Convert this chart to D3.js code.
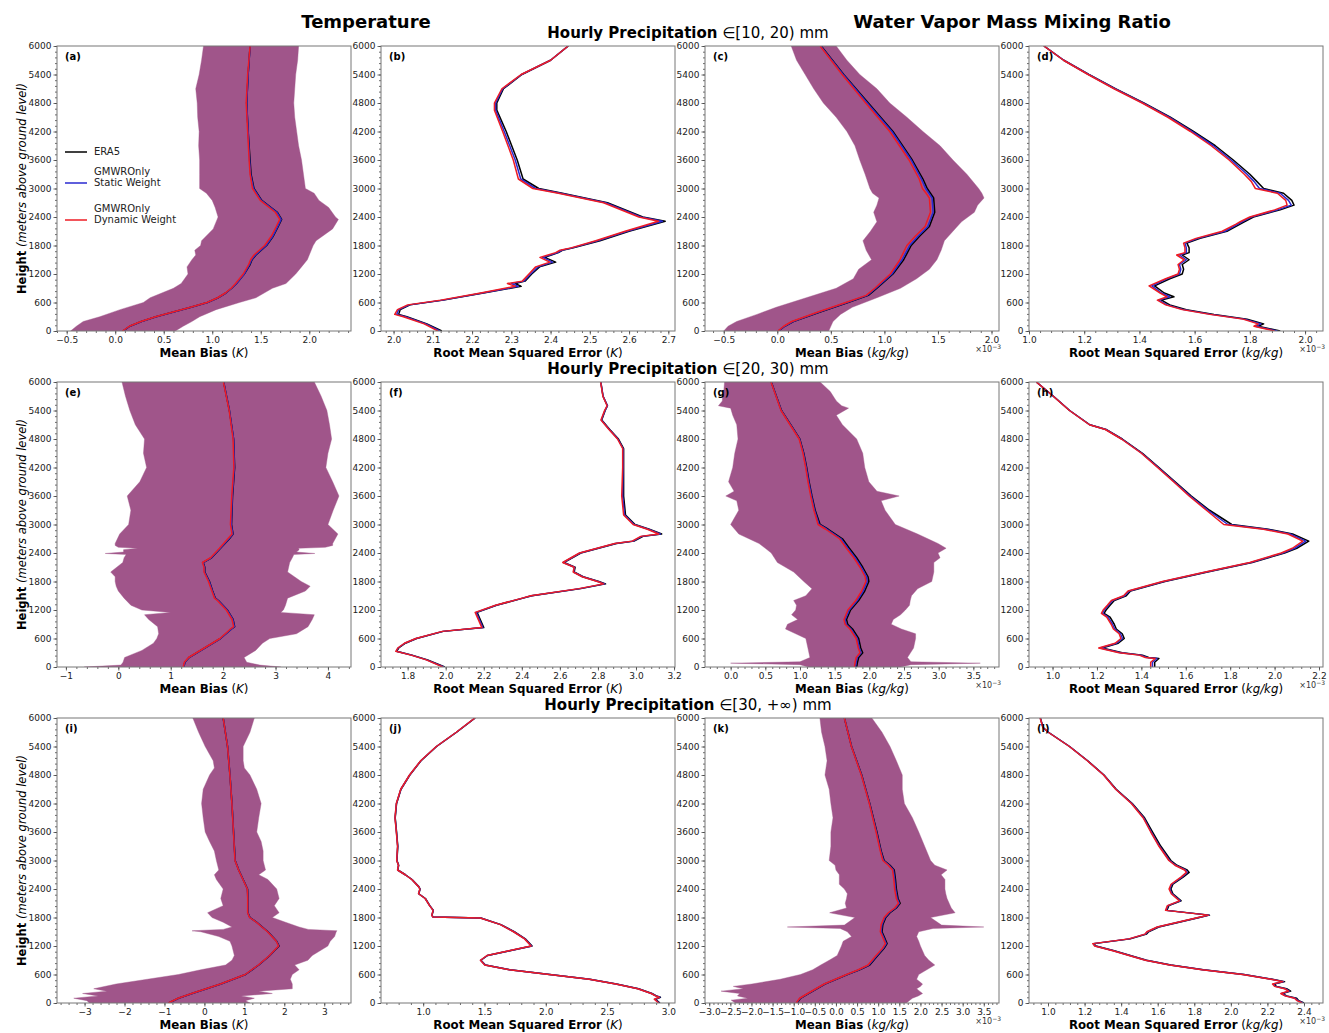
<!DOCTYPE html>
<html>
<head>
<meta charset="utf-8">
<script src="https://cdn.jsdelivr.net/npm/d3@7"></script>
<style>
  body { margin: 0; background: #fff; }
  text { font-family: "DejaVu Sans", sans-serif; }
</style>
</head>
<body>
<script>
// ---- data (heights in m) ----
var yTicks = [0, 600, 1200, 1800, 2400, 3000, 3600, 4200, 4800, 5400, 6000];
var seriesNames = ["ERA5", "GMWROnly\nStatic Weight", "GMWROnly\nDynamic Weight"];
var precipBins = ["[10, 20)", "[20, 30)", "[30, +\u221e)"];

// (a) temperature mean bias, 10-20 mm
var aH = [0,100,200,300,400,500,600,700,800,900,1000,1200,1400,1500,1600,1800,2000,2200,2350,2500,2750,3000,3300,3600,4200,4800,5400,6000];
var aEra = [0.08,0.15,0.27,0.42,0.60,0.78,0.95,1.06,1.14,1.20,1.25,1.33,1.39,1.41,1.45,1.56,1.63,1.68,1.715,1.67,1.51,1.43,1.40,1.39,1.37,1.355,1.37,1.39];
var aStatic = [0.08,0.15,0.27,0.42,0.60,0.78,0.95,1.06,1.14,1.20,1.25,1.33,1.385,1.405,1.445,1.555,1.625,1.675,1.71,1.665,1.505,1.425,1.395,1.385,1.37,1.355,1.37,1.39];
var aDynamic = [0.075,0.145,0.265,0.415,0.595,0.775,0.945,1.055,1.135,1.195,1.24,1.32,1.375,1.395,1.43,1.54,1.61,1.66,1.695,1.65,1.495,1.415,1.39,1.38,1.365,1.35,1.365,1.39];
var aBandH = [0,100,200,300,450,600,700,900,1000,1200,1350,1500,1600,1700,1800,1900,2150,2350,2400,2600,2750,2900,3000,3300,3600,3900,4200,4500,4800,5100,5400,5700,6000];
var aLow = [-0.46,-0.40,-0.33,-0.16,0.05,0.29,0.36,0.60,0.68,0.75,0.74,0.79,0.83,0.82,0.88,0.89,1.01,1.05,1.06,1.03,1.0,0.94,0.87,0.87,0.87,0.86,0.865,0.85,0.845,0.83,0.865,0.89,0.91];
var aHigh = [0.62,0.70,0.79,0.87,1.04,1.28,1.45,1.62,1.76,1.86,1.92,1.98,2.0,2.02,2.04,2.07,2.24,2.3,2.27,2.2,2.1,2.05,1.96,1.94,1.92,1.89,1.87,1.85,1.84,1.85,1.86,1.88,1.89];

// (b) temperature RMSE, 10-20 mm
var bH = [0,150,300,350,450,550,650,800,940,1000,1050,1200,1350,1450,1550,1650,1700,1750,1900,2100,2310,2400,2700,2900,3000,3200,3600,4200,4650,4800,5100,5400,5700,6000];
var bEra = [2.123,2.085,2.034,2.013,2.017,2.042,2.127,2.229,2.325,2.31,2.335,2.352,2.372,2.413,2.385,2.42,2.43,2.458,2.526,2.60,2.692,2.635,2.545,2.43,2.37,2.33,2.315,2.287,2.263,2.263,2.28,2.327,2.40,2.445];
var bStatic = [2.118,2.082,2.03,2.008,2.013,2.04,2.125,2.226,2.318,2.3,2.332,2.349,2.368,2.405,2.38,2.418,2.428,2.455,2.52,2.595,2.685,2.63,2.54,2.425,2.362,2.324,2.31,2.282,2.26,2.26,2.278,2.326,2.40,2.445];
var bDynamic = [2.113,2.078,2.025,2.003,2.01,2.036,2.12,2.222,2.31,2.29,2.328,2.345,2.362,2.398,2.373,2.413,2.424,2.452,2.515,2.59,2.675,2.625,2.535,2.42,2.355,2.318,2.305,2.278,2.257,2.257,2.276,2.325,2.40,2.445];

// (c) water vapour mean bias (x1e-3), 10-20 mm
var cH = [0,100,200,400,600,750,900,1200,1500,1800,2000,2200,2500,2800,2900,3000,3200,3600,4200,4800,5400,6000];
var cEra = [0.01,0.07,0.15,0.40,0.66,0.85,0.93,1.08,1.18,1.25,1.33,1.42,1.47,1.46,1.43,1.40,1.36,1.26,1.08,0.85,0.62,0.41];
var cStatic = [0.01,0.068,0.145,0.39,0.65,0.84,0.92,1.07,1.165,1.235,1.315,1.405,1.455,1.445,1.415,1.385,1.345,1.25,1.07,0.84,0.615,0.405];
var cDynamic = [0.005,0.06,0.135,0.38,0.64,0.83,0.91,1.055,1.145,1.21,1.29,1.38,1.43,1.42,1.39,1.355,1.325,1.23,1.05,0.825,0.605,0.40];
var cBandH = [0,100,200,350,500,700,900,1100,1300,1500,1700,1900,2100,2300,2500,2650,2800,2900,3000,3300,3600,3900,4200,4500,4800,5100,5400,5700,6000];
var cLow = [-0.50,-0.46,-0.38,-0.19,-0.01,0.27,0.55,0.71,0.76,0.88,0.83,0.80,0.87,0.93,0.90,0.93,0.95,0.89,0.865,0.82,0.77,0.725,0.65,0.55,0.43,0.34,0.26,0.18,0.13];
var cHigh = [0.48,0.50,0.52,0.59,0.70,0.93,1.15,1.30,1.42,1.49,1.53,1.56,1.64,1.72,1.84,1.87,1.93,1.91,1.88,1.77,1.64,1.52,1.36,1.21,1.05,0.93,0.77,0.65,0.55];

// (d) water vapour RMSE (x1e-3), 10-20 mm
var dH = [0,100,150,250,350,450,550,650,720,800,950,1100,1200,1300,1400,1500,1600,1650,1750,1850,1950,2100,2250,2300,2400,2550,2650,2750,2900,3000,3150,3300,3600,3900,4200,4500,4800,5100,5400,5700,6000];
var dEra = [1.91,1.83,1.85,1.79,1.67,1.57,1.51,1.48,1.525,1.49,1.455,1.51,1.555,1.56,1.555,1.58,1.555,1.58,1.58,1.572,1.62,1.717,1.765,1.78,1.813,1.91,1.96,1.952,1.922,1.85,1.825,1.80,1.74,1.675,1.596,1.512,1.416,1.313,1.217,1.126,1.054];
var dStatic = [1.90,1.82,1.84,1.78,1.66,1.56,1.50,1.47,1.51,1.48,1.445,1.50,1.545,1.55,1.545,1.57,1.545,1.57,1.57,1.565,1.612,1.71,1.757,1.772,1.805,1.9,1.95,1.94,1.91,1.835,1.815,1.79,1.732,1.668,1.59,1.508,1.413,1.311,1.216,1.126,1.054];
var dDynamic = [1.89,1.815,1.83,1.775,1.655,1.555,1.495,1.465,1.50,1.475,1.435,1.495,1.54,1.545,1.54,1.562,1.535,1.565,1.565,1.56,1.605,1.70,1.75,1.765,1.80,1.89,1.935,1.93,1.90,1.82,1.805,1.78,1.725,1.66,1.585,1.503,1.41,1.308,1.214,1.125,1.054];

// (e) temperature mean bias, 20-30 mm
var eH = [0,100,200,400,600,800,850,1000,1200,1400,1450,1600,1800,2000,2100,2200,2300,2500,2700,2800,3000,3600,4200,4800,5400,6000];
var eEra = [1.25,1.27,1.35,1.65,1.95,2.16,2.22,2.19,2.08,1.91,1.85,1.80,1.74,1.65,1.65,1.62,1.78,1.95,2.12,2.19,2.16,2.18,2.22,2.20,2.12,2.01];
var eStatic = [1.25,1.27,1.35,1.65,1.95,2.16,2.215,2.185,2.075,1.905,1.845,1.795,1.735,1.645,1.645,1.615,1.775,1.945,2.11,2.185,2.155,2.175,2.215,2.20,2.12,2.01];
var eDynamic = [1.24,1.26,1.34,1.64,1.94,2.14,2.2,2.17,2.06,1.89,1.835,1.785,1.72,1.635,1.635,1.605,1.76,1.93,2.09,2.17,2.14,2.165,2.205,2.19,2.115,2.005];
var eBandH = [0,40,100,200,350,500,600,700,850,1000,1100,1150,1200,1300,1450,1600,1700,1800,1900,2000,2200,2300,2370,2390,2420,2470,2500,2520,2560,2600,2800,3000,3300,3600,3900,4200,4500,4800,5100,5400,5700,6000];
var eLow = [-0.65,0.05,0.09,0.12,0.45,0.67,0.735,0.77,0.75,0.58,0.50,1.0,0.45,0.24,0.11,0.0,-0.04,-0.06,-0.06,-0.145,0.085,0.11,0.15,-0.25,0.1,0.1,0.37,0.0,-0.06,-0.06,0.026,0.197,0.24,0.17,0.41,0.54,0.48,0.5,0.325,0.22,0.137,0.07];
var eHigh = [3.1,2.7,2.45,2.4,2.62,2.75,2.89,3.4,3.62,3.70,3.74,3.1,3.15,3.19,3.23,3.57,3.66,3.49,3.36,3.23,3.27,3.32,3.35,3.75,3.4,3.45,3.44,3.95,4.09,4.09,4.19,4.0,4.1,4.21,4.09,3.96,4.0,4.07,4.03,3.98,3.87,3.74];

// (f) temperature RMSE, 20-30 mm
var fH = [0,150,250,330,400,500,600,750,830,1150,1300,1450,1500,1650,1750,1800,1900,2000,2100,2200,2400,2600,2650,2750,2800,2900,3000,3200,3600,4200,4600,4800,5000,5200,5400,5500,5700,6000];
var fEra = [1.995,1.905,1.823,1.742,1.753,1.788,1.847,1.987,2.20,2.165,2.267,2.407,2.453,2.71,2.84,2.805,2.722,2.675,2.68,2.621,2.71,2.897,2.99,3.037,3.135,3.07,2.995,2.945,2.935,2.935,2.935,2.908,2.862,2.82,2.838,2.85,2.827,2.815];
var fStatic = [1.99,1.9,1.82,1.74,1.75,1.785,1.845,1.985,2.195,2.16,2.265,2.405,2.45,2.705,2.835,2.8,2.72,2.672,2.677,2.618,2.706,2.892,2.985,3.03,3.128,3.065,2.99,2.94,2.93,2.932,2.932,2.905,2.86,2.818,2.837,2.85,2.827,2.815];
var fDynamic = [1.985,1.898,1.818,1.738,1.748,1.783,1.843,1.982,2.19,2.155,2.262,2.402,2.447,2.7,2.83,2.797,2.717,2.67,2.675,2.615,2.703,2.888,2.98,3.025,3.12,3.06,2.985,2.935,2.925,2.93,2.93,2.903,2.858,2.816,2.835,2.848,2.826,2.814];

// (g) water vapour mean bias (x1e-3), 20-30 mm
var gH = [0,100,200,300,400,600,800,900,1000,1200,1400,1600,1800,1900,2100,2300,2500,2700,2900,3000,3300,3600,3900,4200,4500,4800,5000,5400,6000];
var gEra = [1.817,1.829,1.846,1.905,1.876,1.846,1.758,1.688,1.671,1.729,1.846,1.934,1.993,1.981,1.905,1.817,1.712,1.612,1.407,1.29,1.219,1.172,1.131,1.096,1.055,0.997,0.91,0.733,0.586];
var gStatic = [1.80,1.81,1.825,1.88,1.855,1.825,1.735,1.665,1.65,1.71,1.825,1.912,1.97,1.96,1.885,1.795,1.69,1.59,1.39,1.275,1.21,1.165,1.125,1.09,1.05,0.993,0.906,0.73,0.585];
var gDynamic = [1.785,1.795,1.81,1.865,1.84,1.81,1.72,1.65,1.635,1.69,1.805,1.89,1.95,1.94,1.865,1.775,1.67,1.57,1.37,1.26,1.2,1.155,1.115,1.082,1.043,0.988,0.9,0.726,0.582];
var gBandH = [0,50,80,110,200,400,600,700,800,900,1000,1100,1200,1300,1400,1500,1650,1800,2000,2200,2300,2400,2500,2600,2800,3000,3300,3500,3600,3700,3900,4200,4500,4800,5100,5300,5450,5500,5600,5700,5800,6000];
var gLow = [1.12,1.0,0.0,1.0,1.143,1.114,1.084,0.938,0.791,0.82,0.967,0.879,0.938,0.95,0.909,1.084,1.172,1.055,0.909,0.674,0.63,0.586,0.5,0.41,0.117,0.0,0.117,0.088,-0.07,0.05,-0.03,0.03,0.059,0.106,0.088,0.03,0.0,-0.176,-0.12,-0.117,-0.1,-0.088];
var gHigh = [2.45,2.6,3.6,2.6,2.55,2.638,2.667,2.667,2.462,2.315,2.345,2.45,2.52,2.579,2.59,2.608,2.696,2.9,2.93,2.93,3.02,2.99,3.107,2.99,2.696,2.374,2.227,2.17,2.43,2.11,1.993,1.934,1.905,1.817,1.612,1.524,1.7,1.6,1.524,1.48,1.436,1.29];

// (h) water vapour RMSE (x1e-3), 20-30 mm
var hH = [0,100,180,200,250,300,400,500,600,700,800,900,1050,1130,1200,1300,1400,1500,1600,1800,2000,2200,2400,2500,2650,2800,2900,3000,3300,3600,3900,4200,4500,4800,5000,5100,5400,5700,6000];
var hEra = [1.46,1.46,1.479,1.433,1.405,1.314,1.223,1.296,1.323,1.314,1.287,1.278,1.259,1.232,1.241,1.259,1.278,1.332,1.351,1.506,1.698,1.899,2.045,2.10,2.154,2.081,1.972,1.807,1.707,1.625,1.552,1.479,1.405,1.314,1.241,1.168,1.077,1.004,0.927];
var hStatic = [1.45,1.45,1.47,1.425,1.397,1.306,1.215,1.288,1.315,1.306,1.28,1.27,1.25,1.225,1.233,1.252,1.27,1.325,1.345,1.5,1.692,1.893,2.037,2.09,2.14,2.07,1.96,1.79,1.7,1.62,1.548,1.476,1.402,1.312,1.24,1.167,1.077,1.004,0.927];
var hDynamic = [1.442,1.442,1.462,1.418,1.39,1.3,1.208,1.282,1.308,1.3,1.274,1.264,1.244,1.22,1.228,1.247,1.265,1.32,1.34,1.495,1.688,1.888,2.03,2.08,2.127,2.06,1.95,1.771,1.693,1.615,1.545,1.473,1.4,1.31,1.238,1.166,1.076,1.003,0.927];

// (i) temperature mean bias, >=30 mm
var iH = [0,100,200,400,600,800,1000,1100,1200,1300,1500,1700,1800,1900,2200,2400,2600,2800,3000,3600,4200,4800,5400,6000];
var iEra = [-0.89,-0.65,-0.31,0.41,1.03,1.36,1.64,1.75,1.87,1.81,1.59,1.31,1.14,1.09,1.09,1.08,0.97,0.86,0.77,0.73,0.69,0.64,0.58,0.47];
var iStatic = [-0.89,-0.65,-0.31,0.41,1.025,1.355,1.635,1.745,1.862,1.805,1.585,1.305,1.135,1.087,1.087,1.077,0.968,0.858,0.768,0.729,0.689,0.64,0.58,0.47];
var iDynamic = [-0.9,-0.66,-0.32,0.4,1.02,1.35,1.63,1.74,1.855,1.8,1.58,1.3,1.13,1.083,1.084,1.074,0.965,0.855,0.765,0.727,0.688,0.638,0.579,0.47];
var iBandH = [0,50,100,150,200,250,300,400,500,600,700,800,900,1000,1200,1300,1400,1500,1520,1550,1600,1700,1800,1900,2050,2200,2400,2600,2700,2800,3000,3200,3400,3600,3900,4200,4500,4800,4950,5100,5400,5700,6000];
var iLow = [-2.88,-2.94,-3.27,-2.66,-3.05,-2.44,-2.77,-2.21,-1.43,-0.65,-0.09,0.53,0.69,0.75,0.69,0.64,0.36,-0.09,-0.31,0.47,0.69,0.47,0.19,0.08,0.47,0.41,0.47,0.30,0.25,0.36,0.30,0.25,0.13,0.02,-0.03,-0.07,-0.03,0.13,0.25,0.22,0.02,-0.145,-0.29];
var iHigh = [1.14,1.03,1.25,0.92,1.7,1.36,2.2,2.2,2.15,2.2,2.37,2.26,2.59,2.7,3.09,3.15,3.26,3.3,3.32,2.6,2.37,2.03,1.7,1.87,1.75,1.87,1.81,1.59,1.36,1.53,1.47,1.47,1.42,1.31,1.36,1.42,1.31,1.14,1.0,0.97,0.97,1.14,1.25];

// (j) temperature RMSE, >=30 mm
var jH = [0,80,120,150,200,300,400,500,600,700,800,900,1000,1100,1200,1350,1500,1650,1790,1810,1850,1950,2050,2200,2300,2400,2450,2600,2700,2800,2900,3000,3300,3600,3900,4200,4500,4800,5100,5400,5700,6000];
var jEra = [2.931,2.895,2.935,2.902,2.866,2.757,2.576,2.359,2.033,1.707,1.507,1.471,1.525,1.707,1.888,1.833,1.743,1.634,1.47,1.08,1.072,1.083,1.054,1.018,0.964,0.975,0.964,0.909,0.855,0.793,0.8,0.786,0.793,0.783,0.772,0.783,0.819,0.891,0.982,1.109,1.272,1.424];
var jStatic = [2.925,2.89,2.93,2.898,2.862,2.753,2.572,2.356,2.03,1.705,1.505,1.469,1.523,1.704,1.884,1.83,1.74,1.632,1.468,1.079,1.071,1.082,1.053,1.017,0.963,0.974,0.963,0.908,0.854,0.792,0.799,0.785,0.792,0.782,0.771,0.782,0.818,0.89,0.981,1.108,1.271,1.423];
var jDynamic = [2.92,2.885,2.925,2.895,2.86,2.75,2.57,2.353,2.027,1.702,1.502,1.467,1.52,1.7,1.88,1.827,1.737,1.63,1.466,1.078,1.07,1.081,1.052,1.016,0.962,0.973,0.962,0.907,0.853,0.791,0.798,0.784,0.791,0.781,0.77,0.781,0.817,0.889,0.98,1.107,1.27,1.422];

// (k) water vapour mean bias (x1e-3), >=30 mm
var kH = [0,100,200,400,600,700,800,1000,1150,1250,1400,1500,1650,1800,1900,2000,2100,2200,2400,2600,2800,2900,3000,3200,3600,4200,4800,5400,6000];
var kEra = [-0.92,-0.84,-0.65,-0.26,0.27,0.56,0.8,0.99,1.14,1.21,1.14,1.09,1.11,1.18,1.28,1.43,1.52,1.47,1.43,1.41,1.38,1.28,1.14,1.07,0.97,0.8,0.61,0.37,0.2];
var kStatic = [-0.93,-0.85,-0.66,-0.27,0.26,0.545,0.78,0.97,1.12,1.19,1.12,1.07,1.09,1.16,1.26,1.41,1.5,1.45,1.41,1.39,1.36,1.26,1.125,1.06,0.96,0.795,0.605,0.368,0.2];
var kDynamic = [-0.94,-0.86,-0.67,-0.28,0.25,0.53,0.76,0.95,1.1,1.17,1.1,1.05,1.07,1.14,1.24,1.39,1.48,1.43,1.39,1.37,1.34,1.24,1.11,1.05,0.95,0.79,0.6,0.365,0.2];
var kBandH = [0,60,100,150,200,250,300,350,400,500,600,700,800,900,1000,1100,1200,1300,1400,1500,1570,1600,1640,1800,1900,2000,2100,2200,2300,2400,2500,2600,2700,2800,2900,3000,3300,3600,3900,4200,4500,4800,5100,5400,5700,6000];
var kLow = [-2.38,-2.48,-2.09,-2.33,-2.28,-2.72,-2.19,-2.43,-1.99,-1.32,-0.84,-0.55,-0.36,-0.16,0.03,0.08,0.13,0.17,0.37,0.27,0.1,-1.15,0.2,0.45,-0.15,0.25,0.22,0.25,0.27,0.2,0.08,0.08,0.08,0.0,-0.02,-0.16,-0.12,-0.12,-0.07,-0.12,-0.16,-0.26,-0.21,-0.26,-0.34,-0.38];
var kHigh = [1.67,1.75,1.81,1.95,2.05,1.98,1.91,2.0,2.05,1.91,1.96,2.15,2.34,2.2,2.1,2.05,2.0,1.96,1.91,1.96,2.3,3.5,2.5,2.24,2.82,2.73,2.68,2.63,2.6,2.58,2.58,2.58,2.49,2.63,2.34,2.24,2.1,1.96,1.81,1.62,1.57,1.57,1.43,1.28,1.09,0.85];

// (l) water vapour RMSE (x1e-3), >=30 mm
var lH = [0,50,100,150,200,250,300,350,400,450,500,600,700,800,900,1000,1100,1200,1250,1350,1450,1500,1600,1700,1800,1850,1950,2050,2150,2300,2400,2500,2650,2750,2800,2900,3000,3300,3600,3900,4200,4500,4800,5100,5400,5700,5800,6000];
var lEra = [2.4,2.371,2.36,2.305,2.282,2.327,2.305,2.249,2.238,2.294,2.227,2.072,1.85,1.672,1.539,1.45,1.362,1.262,1.251,1.45,1.539,1.55,1.606,1.717,1.828,1.883,1.65,1.661,1.728,1.683,1.672,1.683,1.739,1.772,1.761,1.705,1.672,1.617,1.572,1.528,1.461,1.373,1.306,1.217,1.118,1.002,0.973,0.958];
var lStatic = [2.395,2.366,2.352,2.3,2.277,2.32,2.298,2.243,2.232,2.288,2.222,2.068,1.846,1.668,1.535,1.446,1.358,1.258,1.248,1.445,1.532,1.544,1.6,1.712,1.824,1.88,1.646,1.656,1.723,1.678,1.666,1.677,1.732,1.762,1.752,1.698,1.665,1.61,1.565,1.523,1.458,1.371,1.305,1.216,1.118,1.002,0.973,0.958];
var lDynamic = [2.39,2.362,2.348,2.296,2.273,2.316,2.294,2.239,2.228,2.284,2.218,2.064,1.842,1.665,1.532,1.443,1.355,1.255,1.245,1.442,1.53,1.541,1.597,1.709,1.821,1.877,1.643,1.653,1.719,1.674,1.662,1.673,1.727,1.757,1.747,1.694,1.661,1.607,1.562,1.52,1.456,1.37,1.304,1.215,1.117,1.001,0.972,0.957];

// ---- layout ----
var width = 1329, height = 1033;
var colLeft = [57, 381, 705, 1029], rowTop = [46, 382, 718];
var pw = 294, ph = 285;
var colors = ["#000000", "#2a2ad0", "#ee1c24"];
var bandColor = "#a0558a";

var panels = [
  {id: "a", r: 0, c: 0, dom: [-0.6, 2.43], step: 0.5, minor: 0.1, fmt: ".1f", lab: "Mean Bias", unit: "K", H: aH, lines: [aEra, aStatic, aDynamic], band: [aBandH, aLow, aHigh]},
  {id: "b", r: 0, c: 1, dom: [1.968, 2.717], step: 0.1, minor: 0.02, fmt: ".1f", lab: "Root Mean Squared Error", unit: "K", H: bH, lines: [bEra, bStatic, bDynamic]},
  {id: "c", r: 0, c: 2, dom: [-0.675, 2.07], step: 0.5, minor: 0.1, fmt: ".1f", lab: "Mean Bias", unit: "kg/kg", sci: true, H: cH, lines: [cEra, cStatic, cDynamic], band: [cBandH, cLow, cHigh]},
  {id: "d", r: 0, c: 3, dom: [1.0, 2.065], step: 0.2, minor: 0.04, fmt: ".1f", lab: "Root Mean Squared Error", unit: "kg/kg", sci: true, H: dH, lines: [dEra, dStatic, dDynamic]},
  {id: "e", r: 1, c: 0, dom: [-1.17, 4.44], step: 1, minor: 0.2, fmt: "d", lab: "Mean Bias", unit: "K", H: eH, lines: [eEra, eStatic, eDynamic], band: [eBandH, eLow, eHigh]},
  {id: "f", r: 1, c: 1, dom: [1.66, 3.205], step: 0.2, minor: 0.04, fmt: ".1f", lab: "Root Mean Squared Error", unit: "K", H: fH, lines: [fEra, fStatic, fDynamic]},
  {id: "g", r: 1, c: 2, dom: [-0.37, 3.87], step: 0.5, minor: 0.1, fmt: ".1f", lab: "Mean Bias", unit: "kg/kg", sci: true, H: gH, lines: [gEra, gStatic, gDynamic], band: [gBandH, gLow, gHigh]},
  {id: "h", r: 1, c: 3, dom: [0.894, 2.218], step: 0.2, minor: 0.04, fmt: ".1f", lab: "Root Mean Squared Error", unit: "kg/kg", sci: true, H: hH, lines: [hEra, hStatic, hDynamic]},
  {id: "i", r: 2, c: 0, dom: [-3.69, 3.67], step: 1, minor: 0.2, fmt: "d", lab: "Mean Bias", unit: "K", H: iH, lines: [iEra, iStatic, iDynamic], band: [iBandH, iLow, iHigh]},
  {id: "j", r: 2, c: 1, dom: [0.656, 3.054], step: 0.5, minor: 0.1, fmt: ".1f", lab: "Root Mean Squared Error", unit: "K", H: jH, lines: [jEra, jStatic, jDynamic]},
  {id: "k", r: 2, c: 2, dom: [-3.1, 3.86], step: 0.5, minor: 0.1, fmt: ".1f", lab: "Mean Bias", unit: "kg/kg", sci: true, H: kH, lines: [kEra, kStatic, kDynamic], band: [kBandH, kLow, kHigh]},
  {id: "l", r: 2, c: 3, dom: [0.896, 2.504], step: 0.2, minor: 0.04, fmt: ".1f", lab: "Root Mean Squared Error", unit: "kg/kg", sci: true, H: lH, lines: [lEra, lStatic, lDynamic]}
];

function stepTicks(dom, step) {
  var s = Math.ceil(dom[0] / step - 1e-6), e = Math.floor(dom[1] / step + 1e-6);
  return d3.range(s, e + 1).map(function(i) { return +(i * step).toFixed(6); });
}

var svg = d3.select("body").append("svg")
    .attr("width", width)
    .attr("height", height);

var defs = svg.append("defs");

panels.forEach(function(p) {
  var left = colLeft[p.c], top = rowTop[p.r], bottom = top + ph;
  var x = d3.scaleLinear().domain(p.dom).range([left, left + pw]);
  var y = d3.scaleLinear().domain([0, 6000]).range([bottom, top]);
  var g = svg.append("g").attr("class", "panel-" + p.id);

  defs.append("clipPath").attr("id", "clip-" + p.id)
    .append("rect").attr("x", left).attr("y", top).attr("width", pw).attr("height", ph);

  var plot = g.append("g").attr("clip-path", "url(#clip-" + p.id + ")");

  if (p.band) {
    var rows = p.band[0].map(function(h, i) { return {h: h, lo: p.band[1][i], hi: p.band[2][i]}; });
    plot.append("path")
      .datum(rows)
      .attr("d", d3.area()
        .y(function(d) { return y(d.h); })
        .x0(function(d) { return x(d.lo); })
        .x1(function(d) { return x(d.hi); }))
      .attr("fill", bandColor)
      .attr("stroke", bandColor)
      .attr("stroke-opacity", 0.5)
      .attr("stroke-width", 0.8);
  }

  var line = d3.line()
    .x(function(d) { return x(d[1]); })
    .y(function(d) { return y(d[0]); });

  p.lines.forEach(function(vals, k) {
    plot.append("path")
      .datum(d3.zip(p.H, vals))
      .attr("d", line)
      .attr("fill", "none")
      .attr("stroke", colors[k])
      .attr("stroke-width", 1.5)
      .attr("stroke-linejoin", "round");
  });

  // axes
  g.append("g").attr("transform", "translate(0," + bottom + ")")
    .call(d3.axisBottom(x).tickValues(stepTicks(p.dom, p.step)).tickFormat(d3.format(p.fmt)).tickSize(3.5).tickPadding(2));
  g.append("g").attr("transform", "translate(0," + bottom + ")")
    .call(d3.axisBottom(x).tickValues(stepTicks(p.dom, p.minor)).tickFormat("").tickSize(2));
  g.append("g").attr("transform", "translate(" + left + ",0)")
    .call(d3.axisLeft(y).tickValues(yTicks).tickFormat(d3.format("d")).tickSize(3.5).tickPadding(2));
  g.append("g").attr("transform", "translate(" + left + ",0)")
    .call(d3.axisLeft(y).tickValues(d3.range(0, 6001, 120)).tickFormat("").tickSize(2));

  g.selectAll(".domain").remove();
  g.selectAll(".tick line").attr("stroke", "#444").attr("stroke-width", 0.8);
  g.selectAll(".tick text").attr("font-size", "9px").attr("font-family", "DejaVu Sans").attr("fill", "#222");

  g.append("rect")
    .attr("x", left).attr("y", top).attr("width", pw).attr("height", ph)
    .attr("fill", "none").attr("stroke", "#777").attr("stroke-width", 1);

  g.append("text")
    .attr("x", left + 8).attr("y", top + 14)
    .attr("font-size", "10px").attr("font-weight", "bold")
    .text("(" + p.id + ")");

  var xl = g.append("text")
    .attr("x", left + pw / 2).attr("y", bottom + 26)
    .attr("text-anchor", "middle").attr("font-size", "11.8px");
  xl.append("tspan").attr("font-weight", "bold").text(p.lab);
  xl.append("tspan").text(" (");
  xl.append("tspan").attr("font-style", "italic").text(p.unit);
  xl.append("tspan").text(")");

  if (p.sci) {
    var st = g.append("text")
      .attr("x", left + pw + 2).attr("y", bottom + 21)
      .attr("text-anchor", "end").attr("font-size", "8px").attr("fill", "#333");
    st.append("tspan").text("\u00d710");
    st.append("tspan").attr("dy", -3.5).attr("font-size", "6px").text("\u22123");
  }

  if (p.c === 0) {
    var yl = g.append("text")
      .attr("transform", "translate(26," + (top + ph / 2) + ") rotate(-90)")
      .attr("text-anchor", "middle").attr("font-size", "11.5px");
    yl.append("tspan").attr("font-weight", "bold").text("Height");
    yl.append("tspan").attr("font-style", "italic").text(" (meters above ground level)");
  }

  if (p.id === "a") {
    var ly = [152, 183, 220];
    seriesNames.forEach(function(name, k) {
      g.append("line")
        .attr("x1", 65).attr("x2", 87).attr("y1", ly[k]).attr("y2", ly[k])
        .attr("stroke", colors[k]).attr("stroke-width", 1.5);
      var parts = name.split("\n");
      parts.forEach(function(t, j) {
        g.append("text")
          .attr("x", 94).attr("y", ly[k] + 2.5 - (parts.length - 1 - j) * 11)
          .attr("font-size", "10px").attr("fill", "#222")
          .text(t);
      });
    });
  }
});

// column titles
svg.append("text").attr("x", 366).attr("y", 28).attr("text-anchor", "middle")
  .attr("font-size", "18px").attr("font-weight", "bold").text("Temperature");
svg.append("text").attr("x", 1012).attr("y", 28).attr("text-anchor", "middle")
  .attr("font-size", "18px").attr("font-weight", "bold").text("Water Vapor Mass Mixing Ratio");

// row titles
precipBins.forEach(function(bin, r) {
  var t = svg.append("text")
    .attr("x", 688).attr("y", rowTop[r] - 8)
    .attr("text-anchor", "middle").attr("font-size", "15px");
  t.append("tspan").attr("font-weight", "bold").text("Hourly Precipitation");
  t.append("tspan").text("  \u2208" + bin + " mm");
});
</script>
</body>
</html>
